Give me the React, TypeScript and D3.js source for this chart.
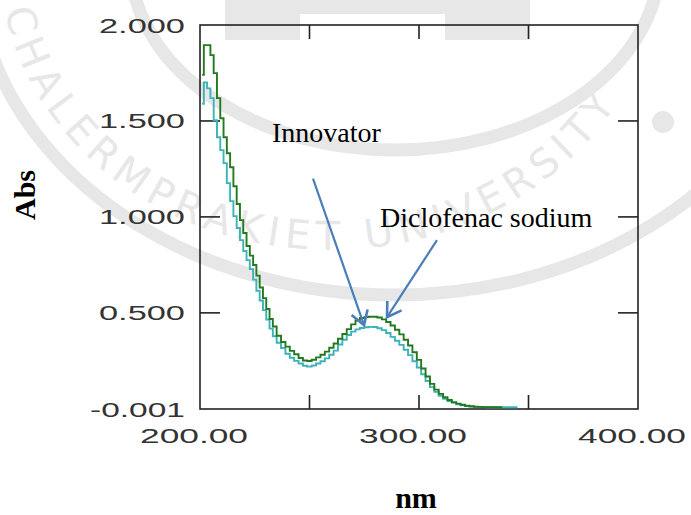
import React from "react";
import * as d3 from "d3";

// Wavelength grid (nm): 1.5 nm steps over the steep edge, 2 nm afterwards
const wavelengths = [
  201, 202.5, 204, 205.5, 207, 208.5, 210, 211.5, 213, 214.5, 216, 217.5, 219, 220.5, 222, 223.5,
  225, 226.5, 228, 229.5, 231, 232.5, 234,
  236, 238, 240, 242, 244, 246, 248, 250, 252, 254, 256, 258, 260, 262, 264, 266,
  268, 270, 272, 274, 276, 278, 280, 282, 284, 286, 288, 290, 292, 294, 296, 298,
  300, 302, 304, 306, 308, 310, 312, 314, 316, 318, 320, 322, 324, 326, 328, 330,
  332, 334, 336, 338, 340, 342, 344, 345,
];

// Absorbance, innovator product (green trace), recorded up to 338 nm
const innovatorAbs = [
  1.74, 1.895, 1.895, 1.843, 1.749, 1.619, 1.514, 1.415, 1.332, 1.259, 1.16, 1.067, 0.983, 0.916, 0.848, 0.798,
  0.749, 0.694, 0.632, 0.577, 0.52, 0.468, 0.429,
  0.381, 0.348, 0.324, 0.302, 0.284, 0.265, 0.252, 0.249, 0.256, 0.268, 0.282, 0.298, 0.318, 0.34, 0.365, 0.39,
  0.415, 0.44, 0.46, 0.473, 0.478, 0.48, 0.48, 0.476, 0.466, 0.452, 0.434, 0.412, 0.388, 0.36, 0.33, 0.295,
  0.255, 0.21, 0.168, 0.13, 0.1, 0.078, 0.06, 0.046, 0.035, 0.027, 0.021, 0.016, 0.013, 0.011, 0.01, 0.009,
  0.009, 0.008, 0.008, 0.008,
];

// Absorbance, diclofenac sodium standard (cyan trace)
const diclofenacAbs = [
  1.59, 1.7, 1.67, 1.619, 1.504, 1.415, 1.348, 1.28, 1.176, 1.082, 1.004, 0.942, 0.879, 0.822, 0.775, 0.728,
  0.673, 0.615, 0.564, 0.514, 0.465, 0.418, 0.378,
  0.344, 0.317, 0.287, 0.266, 0.25, 0.236, 0.224, 0.22, 0.226, 0.236, 0.248, 0.263, 0.282, 0.303, 0.335, 0.36,
  0.385, 0.402, 0.414, 0.421, 0.425, 0.427, 0.426, 0.42, 0.41, 0.395, 0.375, 0.355, 0.333, 0.308, 0.28, 0.248,
  0.215, 0.18, 0.145, 0.113, 0.088, 0.068, 0.052, 0.04, 0.031, 0.024, 0.018, 0.014, 0.012, 0.01, 0.009, 0.009,
  0.008, 0.008, 0.008, 0.008, 0.008, 0.008, 0.008, 0.008,
];

const yTickValues = [2.0, 1.5, 1.0, 0.5, -0.001];
const yTickLabels = ["2.000", "1.500", "1.000", "0.500", "-0.001"];
const xLabelValues = [200, 300, 400];
const xLabelTexts = ["200.00", "300.00", "400.00"];
const xMinorTicks = [250, 300, 350];
const yInnerTicks = [0.5, 1.0, 1.5];

// Annotation arrows in data units: [label, textX, textY, tailX, tailY, tipX, tipY]
const annotations: [string, number, number, number, number, number, number][] = [
  ["Innovator", 232.9, 1.389, 251.6, 1.2, 274.9, 0.436],
  ["Diclofenac sodium", 282.2, 0.947, 308.2, 0.879, 285.4, 0.478],
];

const W = 691;
const H = 515;
const plot = { left: 200, right: 638, top: 25, bottom: 409 };

export default function App() {
  const x = d3.scaleLinear().domain([200, 400]).range([plot.left, plot.right]);
  const y = d3.scaleLinear().domain([-0.001, 2.0]).range([plot.bottom, plot.top]);

  const line = d3
    .line<[number, number]>()
    .x((d) => x(d[0]))
    .y((d) => y(d[1]))
    .curve(d3.curveStep);

  const greenPts = innovatorAbs.map((v, i) => [wavelengths[i], v] as [number, number]);
  const cyanPts = diclofenacAbs.map((v, i) => [wavelengths[i], v] as [number, number]);

  const axisFont = "'Liberation Sans', Arial, sans-serif";
  const serif = "'Liberation Serif', 'Times New Roman', serif";
  const wm = "#e7e7e7";

  // Faint seal watermark behind the chart
  const rad = (deg: number) => (deg * Math.PI) / 180;
  const ringPath = (cx: number, cy: number, rx: number, ry: number, a0: number, a1: number) => {
    const p0 = [cx + rx * Math.cos(rad(a0)), cy + ry * Math.sin(rad(a0))];
    const p1 = [cx + rx * Math.cos(rad(a1)), cy + ry * Math.sin(rad(a1))];
    return `M${p0[0]},${p0[1]} A${rx},${ry} 0 0 0 ${p1[0]},${p1[1]}`;
  };

  const arrowHead = (tx: number, ty: number, fx: number, fy: number) => {
    const ang = Math.atan2(ty - fy, tx - fx);
    const len = 16;
    const spread = rad(32);
    const a = [tx - len * Math.cos(ang - spread), ty - len * Math.sin(ang - spread)];
    const b = [tx - len * Math.cos(ang + spread), ty - len * Math.sin(ang + spread)];
    return `M${a[0]},${a[1]} L${tx},${ty} L${b[0]},${b[1]}`;
  };

  return (
    <svg
      width={W}
      height={H}
      viewBox={`0 0 ${W} ${H}`}
      style={{ position: "absolute", left: 0, top: 0, background: "#fff" }}
    >
      <rect x={0} y={0} width={W} height={H} fill="#fff" />

      {/* watermark */}
      <g>
        <path d={ringPath(395, -40, 265, 190, 175, 5)} fill="none" stroke={wm} strokeWidth={13} />
        <path d={ringPath(395, -40, 420, 335, 165, 15)} fill="none" stroke={wm} strokeWidth={13} />
        <defs>
          <path id="wm-text-path" d={ringPath(330, -40, 330, 290, 172, 14)} />
        </defs>
        <text fontFamily="'DejaVu Sans', sans-serif" fontSize={40} fill={wm}>
          <textPath href="#wm-text-path" startOffset={10} textLength={770} lengthAdjust="spacing">
            CHALERMPRAKIET UNIVERSITY
          </textPath>
        </text>
        <rect x={225} y={0} width={305} height={14} fill={wm} />
        <rect x={225} y={0} width={75} height={40} fill={wm} />
        <rect x={445} y={0} width={85} height={40} fill={wm} />
        <circle cx={663} cy={122} r={11} fill={wm} />
      </g>

      {/* frame */}
      <rect
        x={plot.left}
        y={plot.top}
        width={plot.right - plot.left}
        height={plot.bottom - plot.top}
        fill="none"
        stroke="#222"
        strokeWidth={1.6}
      />

      {/* inward ticks */}
      {xMinorTicks.map((v) => (
        <g key={`xt${v}`} stroke="#222" strokeWidth={1.6}>
          <line x1={x(v)} x2={x(v)} y1={plot.top} y2={plot.top + 14} />
          <line x1={x(v)} x2={x(v)} y1={plot.bottom} y2={plot.bottom - 14} />
        </g>
      ))}
      {yInnerTicks.map((v) => (
        <g key={`yt${v}`} stroke="#222" strokeWidth={1.6}>
          <line x1={plot.left} x2={plot.left + 20} y1={y(v)} y2={y(v)} />
          <line x1={plot.right} x2={plot.right - 20} y1={y(v)} y2={y(v)} />
        </g>
      ))}

      {/* tick labels */}
      {yTickValues.map((v, i) => (
        <text
          key={`yl${i}`}
          x={185}
          y={y(v) + 7.5}
          textAnchor="end"
          fontFamily={axisFont}
          fontSize={20}
          fill="#333"
          textLength={yTickLabels[i].length === 6 ? 95 : 86}
          lengthAdjust="spacingAndGlyphs"
        >
          {yTickLabels[i]}
        </text>
      ))}
      {xLabelValues.map((v, i) => (
        <text
          key={`xl${i}`}
          x={x(v) - 6 - 54}
          y={443}
          fontFamily={axisFont}
          fontSize={20}
          fill="#333"
          textLength={108}
          lengthAdjust="spacingAndGlyphs"
        >
          {xLabelTexts[i]}
        </text>
      ))}

      {/* spectra */}
      <path d={line(cyanPts) || ""} fill="none" stroke="#3cb3b6" strokeWidth={1.9} />
      <path d={line(greenPts) || ""} fill="none" stroke="#23791f" strokeWidth={1.9} />

      {/* annotations */}
      {annotations.map(([label, lx, ly, fx, fy, tx, ty]) => (
        <g key={label}>
          <text x={x(lx)} y={y(ly)} fontFamily={serif} fontSize={28} fill="#000">
            {label}
          </text>
          <line x1={x(fx)} y1={y(fy)} x2={x(tx)} y2={y(ty)} stroke="#4a7ebb" strokeWidth={2.2} />
          <path
            d={arrowHead(x(tx), y(ty), x(fx), y(fy))}
            fill="none"
            stroke="#4a7ebb"
            strokeWidth={2.6}
            strokeLinejoin="miter"
          />
        </g>
      ))}

      {/* axis titles */}
      <text
        transform="translate(35,195) rotate(-90)"
        textAnchor="middle"
        fontFamily={serif}
        fontWeight="bold"
        fontSize={30}
        fill="#000"
      >
        Abs
      </text>
      <text x={416} y={508} textAnchor="middle" fontFamily={serif} fontWeight="bold" fontSize={30} fill="#000">
        nm
      </text>
    </svg>
  );
}
